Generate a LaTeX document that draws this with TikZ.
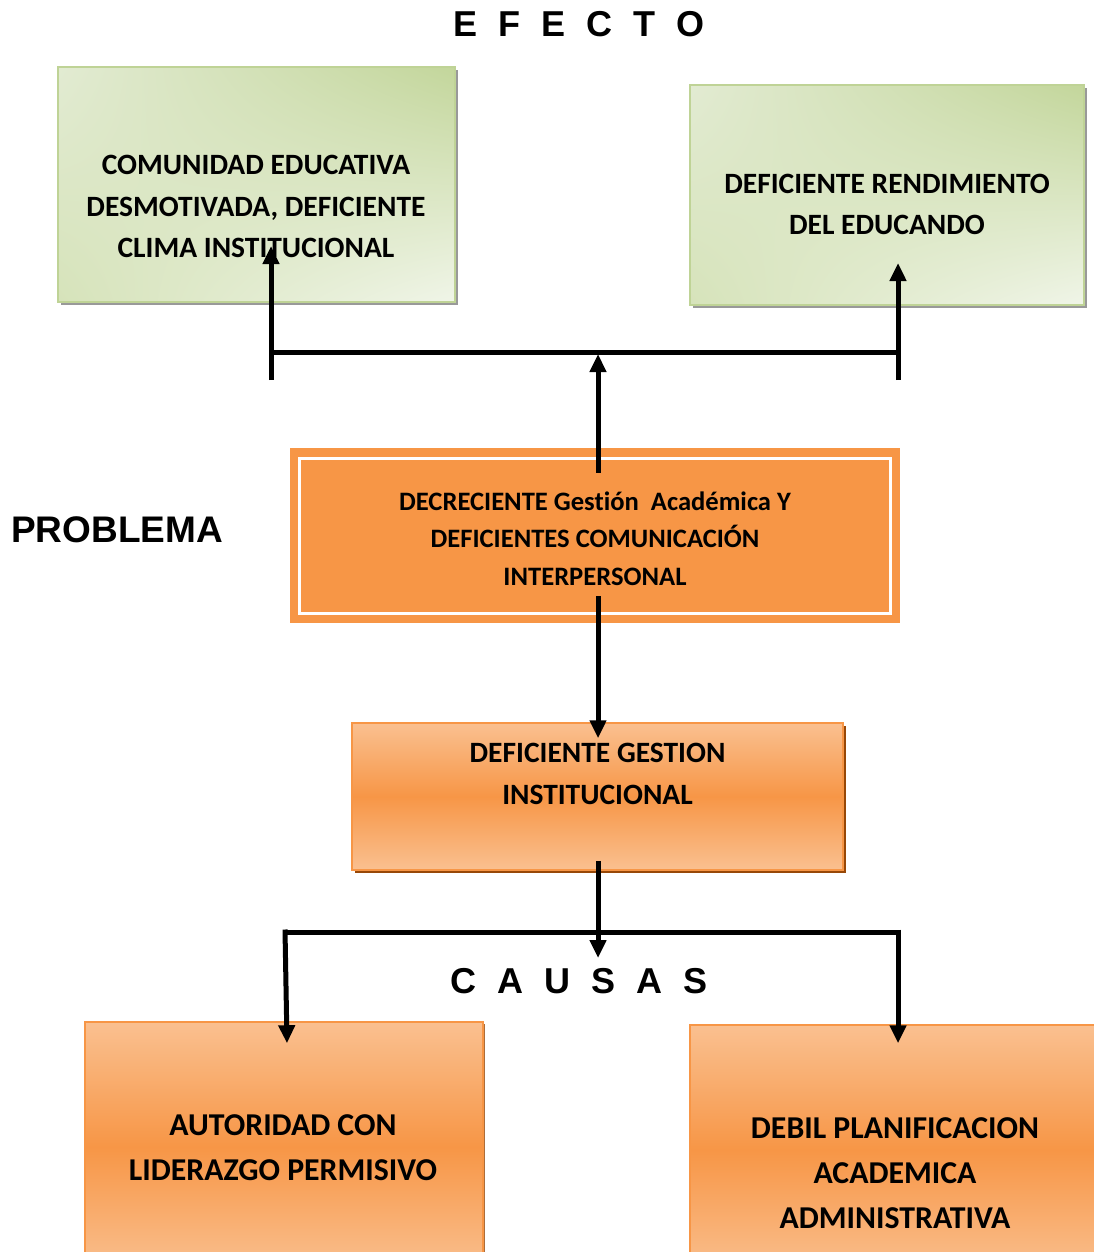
\documentclass[tikz,border=0pt]{standalone}
\usepackage{fontspec}
\setmainfont[Ligatures=NoCommon]{Carlito}
\newfontfamily\headfont{Liberation Sans}
\usetikzlibrary{arrows.meta,shadings,shadows,calc}
\definecolor{gdark}{HTML}{C3D69B}
\definecolor{glight}{HTML}{F0F5E8}
\definecolor{gul}{HTML}{E2EBD2}
\definecolor{gll}{HTML}{D6E3BA}
\definecolor{gborder}{HTML}{BFD396}
\definecolor{orng}{HTML}{F79646}
\definecolor{olight}{HTML}{FAC090}
\definecolor{brownsh}{HTML}{984807}
\begin{document}
\begin{tikzpicture}[x=1pt,y=-1pt,
  greenbox/.style={draw=gborder, line width=2pt, inner sep=0pt,
    upper left=gul, upper right=gdark, lower left=gll, lower right=glight,
    drop shadow={shadow xshift=3pt, shadow yshift=-3pt, fill=black!40, opacity=1}},
  orangebox/.style={draw=orng, line width=1.5pt, inner sep=0pt,
    top color=olight, bottom color=olight, middle color=orng},
  txt/.style={font=\bfseries\fontsize{29.5}{41.5}\selectfont, align=center, inner sep=0pt},
  ptxt/.style={font=\bfseries\fontsize{26.6}{37.5}\selectfont, align=center, inner sep=0pt},
  btxt/.style={font=\bfseries\fontsize{31.8}{45}\selectfont, align=center, inner sep=0pt},
  head/.style={font=\headfont\bfseries\fontsize{36}{40}\selectfont, inner sep=0pt},
  conn/.style={line width=5pt},
  arr/.style={line width=5pt, -{Triangle[width=16pt,length=18pt]}}
]
\useasboundingbox (0,0) rectangle (1094,1252);
\clip (0,0) rectangle (1094,1252);

% headings
\node[head] (efecto) at (579,24) {E\hspace{21pt}F\hspace{21pt}E\hspace{21pt}C\hspace{21pt}T\hspace{21pt}O};
\node[head, font=\headfont\bfseries\fontsize{37}{40}\selectfont, anchor=west] (problema) at (11,530) {PROBLEMA};
\node[head] (causas) at (579,981) {C\hspace{21pt}A\hspace{21pt}U\hspace{21pt}S\hspace{21pt}A\hspace{21pt}S};

% effect boxes
\node[greenbox, minimum width=397pt, minimum height=235pt] (eff1) at (256.5,184.5) {};
\node[txt] (eff1t) at (256,206.5) {COMUNIDAD EDUCATIVA\\DESMOTIVADA, DEFICIENTE\\CLIMA INSTITUCIONAL};
\node[greenbox, minimum width=394pt, minimum height=220pt] (eff2) at (887,195) {};
\node[txt] (eff2t) at (887,204.5) {DEFICIENTE RENDIMIENTO\\DEL EDUCANDO};

% problem box
\node[fill=orng, minimum width=610pt, minimum height=175pt, inner sep=0pt] (prob) at (595,535.5) {};
\draw[white, line width=3pt] (299,458) rectangle (890,613);
\node[ptxt] (probt) at (595,538.5) {DECRECIENTE Gestión\ \ Académica Y\\DEFICIENTES COMUNICACIÓN\\INTERPERSONAL};

% middle box
\node[orangebox, minimum width=491pt, minimum height=147pt,
  drop shadow={shadow xshift=3pt, shadow yshift=-3pt, fill=brownsh, opacity=1}] (mid) at (597.5,796.5) {};
\node[txt] (midt) at (597.5,774) {DEFICIENTE GESTION\\INSTITUCIONAL};

% cause boxes
\node[orangebox, minimum width=398pt, minimum height=250pt,
  drop shadow={shadow xshift=2pt, shadow yshift=-2pt, fill=brownsh!80, opacity=1}] (c1) at (284,1147) {};
\node[btxt] (c1t) at (283,1147.5) {AUTORIDAD CON\\LIDERAZGO PERMISIVO};
\node[orangebox, minimum width=410pt, minimum height=250pt] (c2) at (895,1150) {};
\node[btxt] (c2t) at (895,1173) {DEBIL PLANIFICACION\\ACADEMICA\\ADMINISTRATIVA};

% upper connectors
\coordinate (jtop) at (598,352);
\coordinate (jtl) at (271,352);
\coordinate (jtr) at (898,352);
\coordinate (ltail) at (271,380);
\coordinate (rtail) at (898,380);
\draw[arr] ($(prob.north)+(3,25)$) -- ($(jtop)+(0,2)$);
\draw[conn] (jtl) -- (jtr);
\draw[arr] (ltail) -- ($(eff1.south)+(14.5,-57)$);
\draw[arr] (rtail) -- ($(eff2.south)+(11,-43)$);

% lower connectors
\draw[arr] ($(prob.south)+(3,-27)$) -- ($(mid.north)+(0.5,16)$);
\coordinate (jbot) at (598,932);
\coordinate (jbl) at (285,932);
\coordinate (jbr) at (898,932);
\draw[arr] ($(mid.south)+(0.5,-10)$) -- ($(jbot)+(0,26)$);
\draw[conn] (jbl) -- (jbr);
\draw[arr] ($(jbl)+(0,-2.5)$) -- ($(c1.north)+(3,22)$);
\draw[arr] ($(jbr)+(0,-2.5)$) -- ($(c2.north)+(3,19)$);
\end{tikzpicture}
\end{document}
